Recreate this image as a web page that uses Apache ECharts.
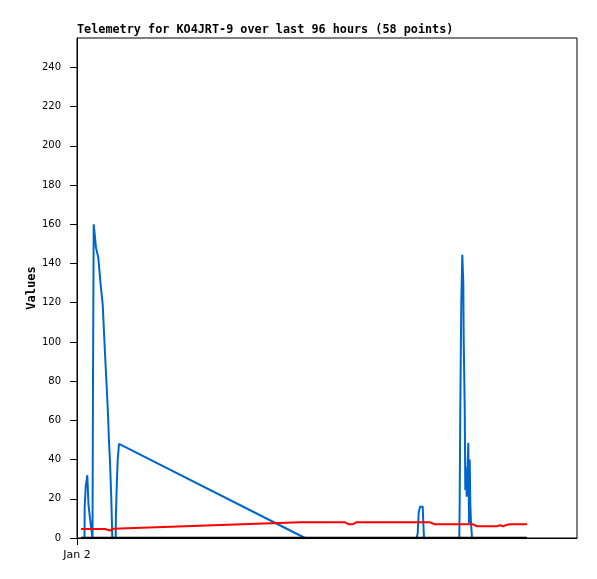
<!DOCTYPE html>
<html>
<head>
<meta charset="utf-8">
<script src="https://cdn.jsdelivr.net/npm/echarts@6/dist/echarts.min.js"></script>
<style>
  html, body { margin: 0; padding: 0; background: #fff; }
  #chart { width: 597px; height: 579px; }
</style>
</head>
<body>
<div id="chart"></div>
<script>
// hours since Jan 2 00:00
const blueHours = [0.8, 1.5, 1.54, 1.74, 2.06, 2.3, 2.6, 3.1, 3.2, 3.34, 3.54, 3.8, 4.26, 4.74, 4.94, 5.14, 5.4, 5.66, 5.94, 6.2, 6.4, 6.6, 6.86, 7.06,
  7.74, 7.78, 7.94, 8.14, 8.4, 8.8, 45.6, 67.94, 68.14, 68.34, 68.6, 69.14, 69.26, 69.4,
  76.46, 76.54, 76.66, 76.86, 77.06, 77.26, 77.34, 77.54, 77.66, 77.8, 77.94, 78.06, 78.26, 78.4, 78.54, 78.66, 78.8, 79, 90];
const blueValues = [0, 0, 16, 26, 32, 17, 10, 0, 80, 160, 155, 148, 143, 129, 124, 119, 105, 91, 77, 63, 49, 39, 20, 0,
  0, 11, 26, 40, 48, 47.5, 0, 0, 2.5, 13, 16, 16, 8, 0,
  0, 19, 67, 120, 144.5, 130, 101, 67, 24.5, 36, 21, 31, 48.5, 7.7, 40, 18, 7.7, 0, 0];

const redHours = [0.8, 5.6, 6.6, 7.2, 44.6, 53.6, 54.4, 55.2, 55.8, 70.6, 71.6, 79.2, 80.0, 84.0, 84.6, 85.2, 85.8, 86.6, 90];
const redValues = [4.6, 4.6, 3.8, 4.7, 8.0, 8.0, 7.0, 7.0, 8.0, 8.0, 7.0, 7.0, 6.0, 6.0, 6.6, 6.0, 6.6, 7.0, 7.0];

const blackHours = [0.8, 90];
const blackValues = [0, 0];

const yTicks = [0, 20, 40, 60, 80, 100, 120, 140, 160, 180, 200, 220, 240];
const xTicks = [0];
const xTickLabels = ['Jan 2'];

const zip = (xs, ys) => xs.map((x, i) => [x, ys[i]]);

const chart = echarts.init(document.getElementById('chart'));
chart.setOption({
  animation: false,
  title: {
    text: 'Telemetry for KO4JRT-9 over last 96 hours (58 points)',
    left: 77,
    top: 24,
    padding: 0,
    textStyle: { fontFamily: 'DejaVu Sans Mono', fontWeight: 'bold', fontSize: 11.8, color: '#000' }
  },
  // y axis title
  graphic: [{
    type: 'text',
    x: 32,
    y: 288,
    rotation: Math.PI / 2,
    style: {
      text: 'Values',
      align: 'center',
      verticalAlign: 'middle',
      font: 'bold 12px "DejaVu Sans Mono"',
      fill: '#000'
    }
  }],
  grid: { left: 77, top: 38, right: 20, bottom: 41, show: true, borderColor: '#000', borderWidth: 1 },
  xAxis: {
    type: 'value',
    min: 0,
    max: 100,
    axisLine: { show: true, lineStyle: { color: '#000' } },
    splitLine: { show: false },
    axisTick: { show: true, length: 7, customValues: xTicks, lineStyle: { color: '#000' } },
    axisLabel: {
      customValues: xTicks,
      formatter: (v) => xTickLabels[xTicks.indexOf(v)] || '',
      margin: 12,
      fontFamily: 'DejaVu Sans',
      fontSize: 11,
      color: '#000'
    }
  },
  yAxis: {
    type: 'value',
    min: 0,
    max: 255,
    axisLine: { show: true, lineStyle: { color: '#000' } },
    splitLine: { show: false },
    axisTick: { show: true, length: 7, customValues: yTicks, lineStyle: { color: '#000' } },
    axisLabel: { customValues: yTicks, margin: 16, fontFamily: 'DejaVu Sans', fontSize: 10, color: '#000' }
  },
  series: [
    {
      type: 'line', data: zip(blueHours, blueValues), showSymbol: false,
      lineStyle: { color: '#0066cc', width: 2 }
    },
    {
      type: 'line', data: zip(redHours, redValues), showSymbol: false,
      lineStyle: { color: '#ff0000', width: 2 }
    },
    {
      type: 'line', data: zip(blackHours, blackValues), showSymbol: false,
      lineStyle: { color: '#000000', width: 2.5 }
    }
  ]
});
</script>
</body>
</html>
